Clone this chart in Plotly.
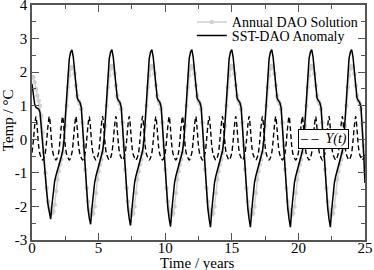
import plotly.graph_objects as go

# time grid (years), step 0.1
time_years = [round(i * 0.1, 1) for i in range(251)]

# SST-DAO Anomaly (black solid), values read per 0.1 yr
sst_dao = [
    1.65, 1.35, 1.05, 0.95, 0.92, 0.90, 0.80, 0.30, -0.25, -0.70,
    -1.15, -1.55, -1.95, -2.20, -2.38, -1.95, -1.50, -1.25, -1.08, -0.95,
    -0.82, -0.68, -0.52, -0.35, -0.05, 0.65, 1.30, 2.00, 2.40, 2.60,
    2.66, 2.45, 1.95, 1.45, 1.22, 1.15, 1.10, 0.95, 0.35, -0.45,
    -1.10, -1.60, -2.05, -2.35, -2.53, -2.05, -1.60, -1.30, -1.10, -0.95,
    -0.82, -0.68, -0.52, -0.35, -0.05, 0.65, 1.30, 2.00, 2.40, 2.60,
    2.67, 2.45, 1.95, 1.45, 1.22, 1.15, 1.10, 0.95, 0.35, -0.45,
    -1.10, -1.60, -2.05, -2.37, -2.57, -2.08, -1.60, -1.30, -1.10, -0.95,
    -0.82, -0.68, -0.52, -0.35, -0.05, 0.65, 1.30, 2.00, 2.40, 2.60,
    2.67, 2.45, 1.95, 1.45, 1.22, 1.15, 1.10, 0.95, 0.35, -0.45,
    -1.10, -1.60, -2.05, -2.38, -2.60, -2.10, -1.60, -1.30, -1.10, -0.95,
    -0.82, -0.68, -0.52, -0.35, -0.05, 0.65, 1.30, 2.00, 2.40, 2.60,
    2.67, 2.45, 1.95, 1.45, 1.22, 1.15, 1.10, 0.95, 0.35, -0.45,
    -1.10, -1.60, -2.05, -2.38, -2.62, -2.10, -1.60, -1.30, -1.10, -0.95,
    -0.82, -0.68, -0.52, -0.35, -0.05, 0.65, 1.30, 2.00, 2.40, 2.60,
    2.67, 2.45, 1.95, 1.45, 1.22, 1.15, 1.10, 0.95, 0.35, -0.45,
    -1.10, -1.60, -2.05, -2.38, -2.62, -2.10, -1.60, -1.30, -1.10, -0.95,
    -0.82, -0.68, -0.52, -0.35, -0.05, 0.65, 1.30, 2.00, 2.40, 2.60,
    2.67, 2.45, 1.95, 1.45, 1.22, 1.15, 1.10, 0.95, 0.35, -0.45,
    -1.10, -1.60, -2.05, -2.38, -2.62, -2.10, -1.60, -1.30, -1.10, -0.95,
    -0.82, -0.68, -0.52, -0.35, -0.05, 0.65, 1.30, 2.00, 2.40, 2.60,
    2.67, 2.45, 1.95, 1.45, 1.22, 1.15, 1.10, 0.95, 0.35, -0.45,
    -1.10, -1.60, -2.05, -2.38, -2.62, -2.10, -1.60, -1.30, -1.10, -0.95,
    -0.82, -0.68, -0.52, -0.35, -0.05, 0.65, 1.30, 2.00, 2.40, 2.60,
    2.67, 2.45, 1.95, 1.45, 1.22, 1.15, 1.10, 0.95, 0.35, -0.45,
    -1.30,
]

# Annual DAO Solution (light grey line with dots)
annual_dao = [
    1.85, 1.85, 1.70, 1.50, 1.30, 1.15, 1.00, 0.70, 0.20, -0.40,
    -1.00, -1.45, -1.85, -2.05, -2.15, -2.20, -2.15, -1.95, -1.55, -1.20,
    -0.95, -0.75, -0.60, -0.40, -0.10, 0.40, 1.00, 1.55, 1.90, 2.10,
    2.15, 2.15, 1.95, 1.60, 1.30, 1.15, 1.05, 0.90, 0.50, -0.20,
    -0.90, -1.45, -1.85, -2.10, -2.20, -2.25, -2.20, -2.00, -1.60, -1.20,
    -0.95, -0.75, -0.60, -0.40, -0.10, 0.40, 1.00, 1.55, 1.90, 2.10,
    2.18, 2.15, 1.95, 1.60, 1.30, 1.15, 1.05, 0.90, 0.50, -0.20,
    -0.90, -1.45, -1.85, -2.10, -2.20, -2.25, -2.20, -2.00, -1.60, -1.20,
    -0.95, -0.75, -0.60, -0.40, -0.10, 0.40, 1.00, 1.55, 1.90, 2.10,
    2.18, 2.15, 1.95, 1.60, 1.30, 1.15, 1.05, 0.90, 0.50, -0.20,
    -0.90, -1.45, -1.85, -2.10, -2.22, -2.25, -2.20, -2.00, -1.60, -1.20,
    -0.95, -0.75, -0.60, -0.40, -0.10, 0.40, 1.00, 1.55, 1.90, 2.10,
    2.18, 2.15, 1.95, 1.60, 1.30, 1.15, 1.05, 0.90, 0.50, -0.20,
    -0.90, -1.45, -1.85, -2.10, -2.22, -2.25, -2.20, -2.00, -1.60, -1.20,
    -0.95, -0.75, -0.60, -0.40, -0.10, 0.40, 1.00, 1.55, 1.90, 2.10,
    2.18, 2.15, 1.95, 1.60, 1.30, 1.15, 1.05, 0.90, 0.50, -0.20,
    -0.90, -1.45, -1.85, -2.10, -2.22, -2.25, -2.20, -2.00, -1.60, -1.20,
    -0.95, -0.75, -0.60, -0.40, -0.10, 0.40, 1.00, 1.55, 1.90, 2.10,
    2.18, 2.15, 1.95, 1.60, 1.30, 1.15, 1.05, 0.90, 0.50, -0.20,
    -0.90, -1.45, -1.85, -2.10, -2.22, -2.25, -2.20, -2.00, -1.60, -1.20,
    -0.95, -0.75, -0.60, -0.40, -0.10, 0.40, 1.00, 1.55, 1.90, 2.10,
    2.18, 2.15, 1.95, 1.60, 1.30, 1.15, 1.05, 0.90, 0.50, -0.20,
    -0.90, -1.45, -1.85, -2.10, -2.22, -2.25, -2.20, -2.00, -1.60, -1.20,
    -0.95, -0.75, -0.60, -0.40, -0.10, 0.40, 1.00, 1.55, 1.90, 2.10,
    2.18, 2.15, 1.95, 1.60, 1.30, 1.15, 1.05, 0.90, 0.50, -0.20,
    -0.90,
]

# Y(t) (black dashed), one peak per year
y_t = [
    -0.40, -0.05, 0.40, 0.68, 0.30, -0.20, -0.45, -0.55, -0.62, -0.55,
    -0.40, -0.05, 0.40, 0.68, 0.30, -0.20, -0.45, -0.55, -0.62, -0.55,
    -0.40, -0.05, 0.40, 0.68, 0.30, -0.20, -0.45, -0.55, -0.62, -0.55,
    -0.40, -0.05, 0.40, 0.68, 0.30, -0.20, -0.45, -0.55, -0.62, -0.55,
    -0.40, -0.05, 0.40, 0.68, 0.30, -0.20, -0.45, -0.55, -0.62, -0.55,
    -0.40, -0.05, 0.40, 0.68, 0.30, -0.20, -0.45, -0.55, -0.62, -0.55,
    -0.40, -0.05, 0.40, 0.68, 0.30, -0.20, -0.45, -0.55, -0.62, -0.55,
    -0.40, -0.05, 0.40, 0.68, 0.30, -0.20, -0.45, -0.55, -0.62, -0.55,
    -0.40, -0.05, 0.40, 0.68, 0.30, -0.20, -0.45, -0.55, -0.62, -0.55,
    -0.40, -0.05, 0.40, 0.68, 0.30, -0.20, -0.45, -0.55, -0.62, -0.55,
    -0.40, -0.05, 0.40, 0.68, 0.30, -0.20, -0.45, -0.55, -0.62, -0.55,
    -0.40, -0.05, 0.40, 0.68, 0.30, -0.20, -0.45, -0.55, -0.62, -0.55,
    -0.40, -0.05, 0.40, 0.68, 0.30, -0.20, -0.45, -0.55, -0.62, -0.55,
    -0.40, -0.05, 0.40, 0.68, 0.30, -0.20, -0.45, -0.55, -0.62, -0.55,
    -0.40, -0.05, 0.40, 0.68, 0.30, -0.20, -0.45, -0.55, -0.62, -0.55,
    -0.40, -0.05, 0.40, 0.68, 0.30, -0.20, -0.45, -0.55, -0.62, -0.55,
    -0.40, -0.05, 0.40, 0.68, 0.30, -0.20, -0.45, -0.55, -0.62, -0.55,
    -0.40, -0.05, 0.40, 0.68, 0.30, -0.20, -0.45, -0.55, -0.62, -0.55,
    -0.40, -0.05, 0.40, 0.68, 0.30, -0.20, -0.45, -0.55, -0.62, -0.55,
    -0.40, -0.05, 0.40, 0.68, 0.30, -0.20, -0.45, -0.55, -0.62, -0.55,
    -0.40, -0.05, 0.40, 0.68, 0.30, -0.20, -0.45, -0.55, -0.62, -0.55,
    -0.40, -0.05, 0.40, 0.68, 0.30, -0.20, -0.45, -0.55, -0.62, -0.55,
    -0.40, -0.05, 0.40, 0.68, 0.30, -0.20, -0.45, -0.55, -0.62, -0.55,
    -0.40, -0.05, 0.40, 0.68, 0.30, -0.20, -0.45, -0.55, -0.62, -0.55,
    -0.40, -0.05, 0.40, 0.68, 0.30, -0.20, -0.45, -0.55, -0.62, -0.55,
    -0.40,
]

x_ticks = [0, 5, 10, 15, 20, 25]
x_ticklabels = ["0", "5", "10", "15", "20", "25"]
y_ticks = [-3, -2, -1, 0, 1, 2, 3, 4]
y_ticklabels = ["-3", "-2", "-1", "0", "1", "2", "3", "4"]

FONT = "Liberation Serif"
FRAME = "#555555"

fig = go.Figure()
fig.add_trace(go.Scatter(
    x=time_years, y=annual_dao, mode="lines+markers",
    name="Annual DAO Solution",
    line=dict(color="#d0d0d0", width=1.5),
    marker=dict(color="#d0d0d0", size=4.5),
    legend="legend",
))
fig.add_trace(go.Scatter(
    x=time_years, y=sst_dao, mode="lines",
    name="SST-DAO Anomaly",
    line=dict(color="black", width=1.5),
    legend="legend3",
))
fig.add_trace(go.Scatter(
    x=time_years, y=y_t, mode="lines",
    name="Y(t)", showlegend=False,
    line=dict(color="black", width=1.4, dash="5px,3px", shape="spline", smoothing=0.8),
))

axis_common = dict(
    showgrid=False, zeroline=False, showline=True, linecolor=FRAME,
    linewidth=1.5, mirror="allticks", ticks="inside", ticklen=7,
    tickwidth=1, tickcolor=FRAME, automargin=False,
    ticklabeloverflow="allow",
    tickfont=dict(family=FONT, size=15, color="black"),
)

fig.update_xaxes(
    range=[0, 25], tickvals=x_ticks, ticktext=x_ticklabels,
    minor=dict(dtick=2.5, ticklen=4, ticks="inside", tickcolor=FRAME),
    ticklabelstandoff=-7,
    **axis_common,
)
fig.update_yaxes(
    range=[-3, 4], tickvals=y_ticks, ticktext=y_ticklabels,
    minor=dict(dtick=0.5, ticklen=4, ticks="inside", tickcolor=FRAME),
    **axis_common,
)

legend_common = dict(
    xanchor="left", yanchor="middle",
    bgcolor="rgba(0,0,0,0)", borderwidth=0,
    font=dict(family=FONT, size=14, color="black"),
    itemwidth=30,
)

fig.update_layout(
    width=374, height=270,
    margin=dict(l=32, r=9, t=5, b=30, autoexpand=False),
    plot_bgcolor="white", paper_bgcolor="white",
    font=dict(family=FONT, size=14, color="black"),
    showlegend=True,
    legend=dict(x=0.48, y=0.926, **legend_common),
    legend3=dict(x=0.48, y=0.868, **legend_common),
    annotations=[
        dict(text="Time / years", xref="paper", yref="paper", x=0.497, y=-0.097,
             xanchor="center", yanchor="middle", showarrow=False,
             font=dict(family=FONT, size=15, color="black")),
        dict(text="Temp / °C", xref="paper", yref="paper", x=-0.072, y=0.51,
             xanchor="center", yanchor="middle", showarrow=False, textangle=-90,
             font=dict(family=FONT, size=15, color="black")),
        dict(text="– –  <i>Y(t)</i>", xref="paper", yref="paper",
             x=0.8, y=0.472, xanchor="left", yanchor="top", showarrow=False,
             bgcolor="white", bordercolor="black", borderwidth=1, borderpad=1,
             font=dict(family=FONT, size=14, color="black")),
    ],
)

fig.write_html(
    "out.html",
    config={"displayModeBar": False},
    post_script="document.body.style.margin='0';",
)
